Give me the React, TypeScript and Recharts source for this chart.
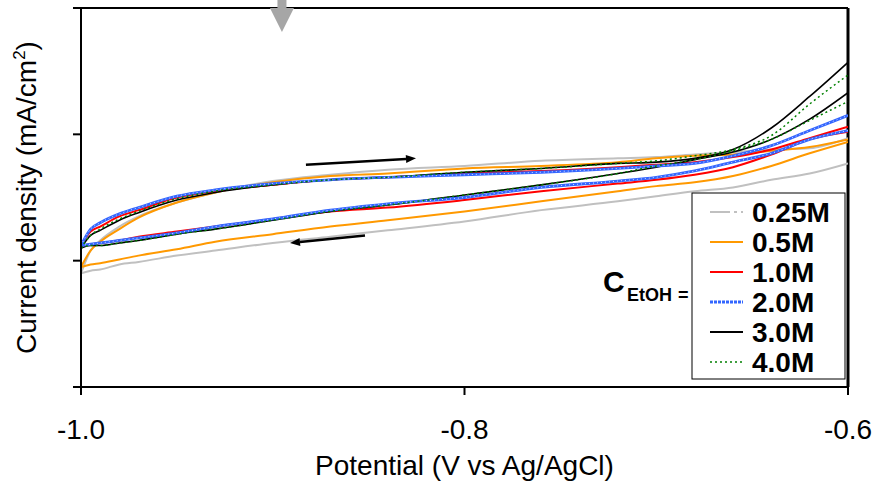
import { LineChart, Line, XAxis, YAxis, Legend, ReferenceLine, ReferenceDot, Label } from 'recharts'

// Potential steps (V vs Ag/AgCl) shared by every sweep
const potential = [-1.0, -0.995, -0.99, -0.98, -0.97, -0.95, -0.93, -0.9, -0.87, -0.84, -0.8, -0.76, -0.72, -0.7, -0.68, -0.66, -0.64, -0.62, -0.6]

// Current density, anodic (forward) and cathodic (reverse) sweeps
const fwd025 = [9.0, 10.8, 11.6, 12.7, 13.5, 14.6, 15.4, 16.3, 16.8, 17.2, 17.5, 17.9, 18.1, 18.2, 18.4, 18.6, 18.8, 18.9, 19.7]
const rev025 = [9.0, 9.2, 9.3, 9.7, 9.9, 10.4, 10.8, 11.4, 11.9, 12.4, 13.1, 14.0, 14.7, 15.1, 15.5, 15.8, 16.4, 16.9, 17.7]
const fwd05 = [9.5, 10.8, 11.5, 12.5, 13.4, 14.6, 15.4, 16.2, 16.7, 16.9, 17.3, 17.5, 17.8, 18.1, 18.3, 18.4, 18.7, 19.0, 19.6]
const rev05 = [9.5, 9.7, 9.8, 10.1, 10.4, 10.9, 11.5, 12.1, 12.7, 13.2, 13.9, 14.7, 15.5, 15.9, 16.2, 16.7, 17.5, 18.5, 19.4]
const fwd10 = [11.2, 12.3, 12.7, 13.5, 14.0, 15.0, 15.5, 16.0, 16.4, 16.6, 16.9, 17.1, 17.4, 17.6, 17.8, 18.2, 18.8, 19.7, 20.6]
const rev10 = [11.2, 11.3, 11.4, 11.6, 11.9, 12.3, 12.7, 13.3, 13.9, 14.2, 14.8, 15.5, 16.1, 16.4, 16.8, 17.4, 18.4, 19.6, 20.2]
const fwd20 = [11.2, 12.5, 13.0, 13.7, 14.2, 15.1, 15.6, 16.1, 16.4, 16.6, 16.8, 17.0, 17.3, 17.5, 17.7, 18.3, 19.1, 20.3, 21.5]
const rev20 = [11.2, 11.3, 11.4, 11.6, 11.8, 12.2, 12.7, 13.3, 14.0, 14.5, 15.0, 15.8, 16.3, 16.6, 17.1, 17.8, 18.5, 19.6, 20.3]
const fwd30 = [11.0, 12.0, 12.4, 13.2, 13.8, 14.8, 15.4, 16.0, 16.4, 16.6, 17.0, 17.3, 17.7, 17.8, 18.1, 18.8, 20.5, 23.0, 25.7]
const rev30 = [11.0, 11.2, 11.2, 11.4, 11.6, 12.1, 12.5, 13.2, 13.9, 14.4, 15.2, 16.0, 16.9, 17.4, 18.0, 18.6, 19.6, 21.2, 23.3]
const fwd40 = [11.0, 12.0, 12.5, 13.3, 13.9, 14.9, 15.5, 16.0, 16.4, 16.6, 17.0, 17.3, 17.7, 17.9, 18.3, 18.8, 19.9, 22.4, 24.7]
const rev40 = [11.0, 11.2, 11.2, 11.4, 11.6, 12.1, 12.5, 13.2, 13.9, 14.4, 15.2, 16.0, 16.9, 17.5, 18.0, 18.7, 19.6, 21.1, 22.6]

const xTicks = [-1.0, -0.8, -0.6]
const yTicks = [0, 10, 20, 30]

const FONT = '"Liberation Sans", Arial, sans-serif'

type SeriesStyle = {
  label: string
  color: string
  width: number
  dash?: string
  speckle?: boolean
  fwd: number[]
  rev: number[]
}

// drawn in this order, last one on top
const series: SeriesStyle[] = [
  { label: '0.25M', color: '#c0c0c0', width: 2, fwd: fwd025, rev: rev025 },
  { label: '0.5M', color: '#ff9900', width: 2, fwd: fwd05, rev: rev05 },
  { label: '1.0M', color: '#ff0000', width: 2, fwd: fwd10, rev: rev10 },
  { label: '3.0M', color: '#000000', width: 1.6, fwd: fwd30, rev: rev30 },
  { label: '2.0M', color: '#3366ff', width: 2.8, speckle: true, fwd: fwd20, rev: rev20 },
  { label: '4.0M', color: '#008000', width: 1.5, dash: '2 3', fwd: fwd40, rev: rev40 },
]

const legendRows = [
  { label: '0.25M', color: '#c0c0c0', width: 2, dash: '20 4 3 4' },
  { label: '0.5M', color: '#ff9900', width: 2 },
  { label: '1.0M', color: '#ff0000', width: 2 },
  { label: '2.0M', color: '#3366ff', width: 3, dash: '3 1' },
  { label: '3.0M', color: '#000000', width: 2 },
  { label: '4.0M', color: '#008000', width: 1.5, dash: '2 3' },
]

const sweep = (values: number[]) => potential.map((p, i) => ({ p, j: values[i] }))

function LegendBox() {
  return (
    <svg width={275} height={195} style={{ display: 'block' }}>
      <text fontFamily={FONT} fontWeight="bold" fill="#000">
        <tspan x={28} y={102} fontSize={30}>C</tspan>
        <tspan x={52} y={111} fontSize={18}>EtOH</tspan>
        <tspan x={103} y={111} fontSize={18}>=</tspan>
      </text>
      <rect x={117} y={3} width={153} height={186} fill="#fff" stroke="#000" strokeWidth={1} />
      {legendRows.map((r, i) => {
        const cy = 22 + i * 30
        return (
          <g key={r.label}>
            <line x1={135} x2={168} y1={cy} y2={cy} stroke={r.color} strokeWidth={r.width} strokeDasharray={r.dash} />
            <text x={177} y={cy + 10} fontFamily={FONT} fontWeight="bold" fontSize={28} fill="#000">
              {r.label}
            </text>
          </g>
        )
      })}
    </svg>
  )
}

// line with a filled arrowhead at the (x2, y2) end
function Arrow(props: any) {
  const { x1, y1, x2, y2 } = props
  const a = Math.atan2(y2 - y1, x2 - x1)
  const len = 10
  const half = 4
  const bx = x2 - len * Math.cos(a)
  const by = y2 - len * Math.sin(a)
  const px = -Math.sin(a) * half
  const py = Math.cos(a) * half
  return (
    <g>
      <line x1={x1} y1={y1} x2={bx} y2={by} stroke="#000" strokeWidth={2.5} />
      <polygon points={`${x2},${y2} ${bx + px},${by + py} ${bx - px},${by - py}`} fill="#000" />
    </g>
  )
}

// grey marker pointing down onto the top frame
function DownMarker(props: any) {
  const { cx, cy } = props
  return (
    <g fill="#a6a6a6">
      <rect x={cx - 4.5} y={cy - 9} width={9} height={10} />
      <polygon points={`${cx - 12},${cy} ${cx + 12},${cy} ${cx},${cy + 24}`} />
    </g>
  )
}

function sweepLines(s: SeriesStyle) {
  const out = []
  for (const [dir, values] of [['f', s.fwd], ['r', s.rev]] as const) {
    out.push(
      <Line
        key={`${s.label}-${dir}`}
        data={sweep(values)}
        dataKey="j"
        type="monotone"
        stroke={s.color}
        strokeWidth={s.width}
        strokeDasharray={s.dash}
        dot={false}
        activeDot={false}
        isAnimationActive={false}
      />
    )
    if (s.speckle) {
      // light dots inside the 2.0M trace
      out.push(
        <Line
          key={`${s.label}-${dir}-dots`}
          data={sweep(values)}
          dataKey="j"
          type="monotone"
          stroke="#d6e0ff"
          strokeWidth={1}
          strokeDasharray="1 3"
          dot={false}
          activeDot={false}
          isAnimationActive={false}
        />
      )
    }
  }
  return out
}

export default function App() {
  return (
    <div style={{ position: 'absolute', left: 0, top: 0, background: '#fff' }}>
      <LineChart width={875} height={483} margin={{ top: 8, right: 27, bottom: 0, left: 0 }}>
        <XAxis
          type="number"
          dataKey="p"
          domain={[-1.0, -0.6]}
          ticks={xTicks}
          allowDataOverflow
          tickFormatter={(v: number) => v.toFixed(1)}
          stroke="#000"
          strokeWidth={2}
          tickSize={8}
          tickMargin={24}
          tick={{ fontSize: 28, fontFamily: FONT, fill: '#000' }}
          height={96}
        >
          <Label
            content={(p: any) => (
              <text
                x={p.viewBox.x + p.viewBox.width / 2}
                y={p.viewBox.y + 88}
                textAnchor="middle"
                fontFamily={FONT}
                fontSize={28}
                fill="#000"
              >
                Potential (V vs Ag/AgCl)
              </text>
            )}
          />
        </XAxis>
        <YAxis
          type="number"
          domain={[0, 30]}
          ticks={yTicks}
          allowDataOverflow
          tickFormatter={() => ''}
          stroke="#000"
          strokeWidth={2}
          tickSize={8}
          width={81}
        >
          <Label
            content={(p: any) => {
              const cy = p.viewBox.y + p.viewBox.height / 2
              return (
                <text
                  transform={`translate(${p.viewBox.x + 36},${cy}) rotate(-90)`}
                  textAnchor="middle"
                  fontFamily={FONT}
                  fontSize={28}
                  fill="#000"
                >
                  Current density (mA/cm
                  <tspan fontSize={17} dy={-11}>2</tspan>
                  <tspan dy={11}>)</tspan>
                </text>
              )
            }}
          />
        </YAxis>

        <ReferenceLine y={30} stroke="#000" strokeWidth={2} />
        <ReferenceLine x={-0.6} stroke="#000" strokeWidth={3} />

        {series.flatMap(sweepLines)}

        <ReferenceLine
          segment={[{ x: -0.8827, y: 17.6 }, { x: -0.8253, y: 18.1 }]}
          shape={(p: any) => <Arrow {...p} />}
        />
        <ReferenceLine
          segment={[{ x: -0.8519, y: 12.0 }, { x: -0.891, y: 11.4 }]}
          shape={(p: any) => <Arrow {...p} />}
        />
        <ReferenceDot x={-0.8952} y={30} ifOverflow="visible" shape={(p: any) => <DownMarker {...p} />} />

        <Legend
          layout="horizontal"
          align="center"
          verticalAlign="middle"
          wrapperStyle={{ left: 575, top: 190, width: 275, height: 195 }}
          content={() => <LegendBox />}
        />
      </LineChart>
    </div>
  )
}
